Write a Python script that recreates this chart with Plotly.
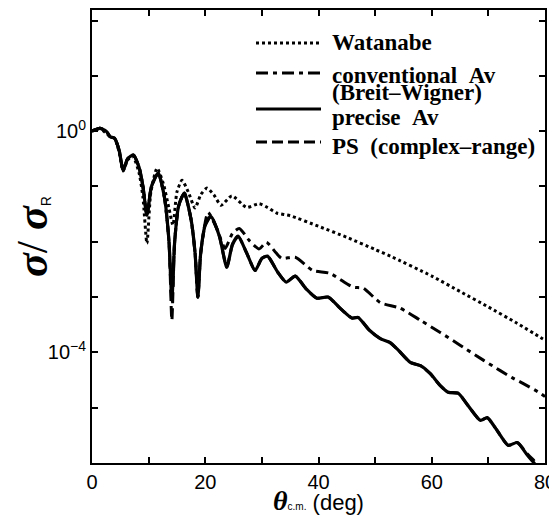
import plotly.graph_objects as go

# ---- data (angle in degrees, log10 of sigma/sigma_R) ----
precise_deg = [0, 1.4, 2.5, 3.2, 4.0, 4.8, 5.5, 6.3, 7.3, 8.3, 9.0, 9.7, 10.5, 11.7, 12.8, 13.6,
               14.1, 14.6, 15.3, 16.3, 17.5, 18.2, 18.7, 19.2, 20.0, 21.0, 22.5, 23.8, 24.8, 25.8,
               27.3, 28.8, 30.0, 31.0, 32.8, 34.3, 35.9, 37.8, 39.7, 41.7, 43.8, 45.9, 47.0, 49.0,
               50.9, 52.6, 54.0, 56.2, 58.0, 59.7, 61.5, 62.9, 64.7, 66.4, 68.6, 69.8, 71.2, 73.5,
               75.1, 76.9, 78.0, 79.5]
precise_log = [0.0, 0.05, 0.0, -0.10, -0.13, -0.35, -0.71, -0.50, -0.43, -0.65, -1.0, -1.52, -1.0,
               -0.76, -1.2, -2.0, -3.06, -2.0, -1.35, -1.12, -1.6, -2.2, -3.0, -2.2, -1.7, -1.54,
               -1.9, -2.46, -2.05, -1.90, -2.2, -2.52, -2.3, -2.26, -2.55, -2.73, -2.62, -2.85,
               -3.02, -3.0, -3.2, -3.38, -3.37, -3.6, -3.75, -3.82, -3.95, -4.18, -4.24, -4.38,
               -4.6, -4.72, -4.74, -4.96, -5.23, -5.18, -5.36, -5.68, -5.63, -5.86, -5.99, -6.2]

ps_deg = precise_deg
ps_log = [0.0, 0.05, 0.0, -0.10, -0.13, -0.35, -0.71, -0.50, -0.43, -0.65, -1.0, -1.52, -1.0,
          -0.76, -1.2, -2.0, -3.42, -2.0, -1.35, -1.12, -1.6, -2.2, -3.0, -2.2, -1.7, -1.54,
          -1.9, -2.46, -2.05, -1.90, -2.2, -2.52, -2.3, -2.26, -2.55, -2.73, -2.62, -2.85,
          -3.02, -3.0, -3.2, -3.38, -3.37, -3.6, -3.75, -3.82, -3.95, -4.18, -4.24, -4.38,
          -4.6, -4.72, -4.74, -4.96, -5.23, -5.18, -5.36, -5.68, -5.63, -5.84, -5.95, -6.25]

conv_deg = [0, 1.4, 2.5, 3.2, 4.0, 4.8, 5.5, 6.3, 7.3, 8.3, 9.0, 9.7, 10.5, 11.7, 12.8, 13.6,
            14.1, 14.6, 15.3, 16.3, 17.5, 18.2, 18.7, 19.2, 20.5, 22.0, 23.5, 24.8, 26.0, 27.8,
            29.5, 30.8, 32.5, 33.5, 35.9, 39.0, 42.0, 46.1, 47.9, 50.9, 54.4, 58.0, 61.5, 65.0,
            69.1, 72.1, 74.4, 76.1, 79.2, 80.0]
conv_log = [0.0, 0.05, 0.0, -0.10, -0.13, -0.35, -0.71, -0.50, -0.43, -0.65, -1.0, -1.52, -1.0,
            -0.76, -1.2, -2.0, -3.06, -2.0, -1.35, -1.12, -1.6, -2.2, -3.0, -2.2, -1.47, -1.75,
            -2.12, -1.85, -1.76, -1.98, -2.13, -2.01, -2.2, -2.3, -2.28, -2.52, -2.57, -2.82,
            -2.84, -3.1, -3.2, -3.42, -3.64, -3.87, -4.14, -4.33, -4.47, -4.56, -4.74, -4.8]

wat_deg = [0, 1.4, 3.2, 4.0, 4.8, 5.5, 6.3, 7.2, 8.3, 9.0, 9.7, 10.4, 11.5, 12.6, 13.6, 14.3,
           15.0, 15.9, 17.0, 18.2, 19.2, 20.3, 21.5, 22.8, 24.7, 27.3, 29.5, 31.0, 32.6, 35.0,
           40.0, 45.0, 50.0, 52.7, 60.0, 65.0, 70.0, 75.0, 79.2, 80.0]
wat_log = [0.0, 0.05, -0.10, -0.13, -0.38, -0.72, -0.52, -0.45, -0.75, -1.2, -2.03, -1.1, -0.67,
           -0.95, -1.4, -1.7, -1.1, -0.89, -1.1, -1.39, -1.15, -1.03, -1.15, -1.34, -1.17, -1.38,
           -1.31, -1.38, -1.48, -1.53, -1.72, -1.92, -2.14, -2.26, -2.62, -2.9, -3.18, -3.47,
           -3.73, -3.78]

x_tickvals = [0, 20, 40, 60, 80]
x_minorvals = [10, 30, 50, 70]
y_tickvals = [1e-4, 1e0]
y_ticktext = ["10<sup>\u22124</sup>", "10<sup>0</sup>"]
y_minorvals = [1e-6, 1e-5, 1e-3, 1e-2, 1e-1, 1e1, 1e2]

legend_labels = ["Watanabe", "conventional&nbsp;&nbsp;Av", "precise&nbsp;&nbsp;Av",
                 "PS&nbsp;&nbsp;(complex\u2013range)"]
legend_extra = "(Breit\u2013Wigner)"

sans = "Liberation Sans, Arial, sans-serif"
serif = "Liberation Serif, Times New Roman, serif"

series = [
    (legend_labels[0], wat_deg, wat_log, "dot", 3),
    (legend_labels[1], conv_deg, conv_log, "12px,5px,4px,5px", 3),
    (legend_labels[2], precise_deg, precise_log, "solid", 3.2),
    (legend_labels[3], ps_deg, ps_log, "11px,5px", 3),
]

fig = go.Figure()
for name, xs, ls, dash, w in series:
    fig.add_trace(go.Scatter(
        x=xs, y=[10 ** v for v in ls], mode="lines", name=name, showlegend=False,
        line=dict(color="black", width=w, dash=dash, shape="spline", smoothing=0.6),
    ))

# hand-drawn legend in plot-area (paper) coordinates.
# positions below are window pixels; the page body adds an 8 px offset.
PLOT_L, PLOT_R, PLOT_T, PLOT_B = 92, 545, 10, 463

def px_x(p):
    return (p - PLOT_L) / (PLOT_R - PLOT_L)

def px_y(p):
    return (PLOT_B - p) / (PLOT_B - PLOT_T)

sample_y = [43, 73, 109, 142]
text_y = [42.5, 75.5, 117.5, 146.5]
for (name, _, _, dash, w), sy, ty in zip(series, sample_y, text_y):
    fig.add_shape(type="line", xref="paper", yref="paper",
                  x0=px_x(256), x1=px_x(321), y0=px_y(sy), y1=px_y(sy),
                  line=dict(color="black", width=w, dash=dash))
    fig.add_annotation(xref="paper", yref="paper", x=px_x(330), y=px_y(ty),
                       xanchor="left", yanchor="middle", showarrow=False,
                       text="<b>" + name + "</b>",
                       font=dict(family=serif, size=23, color="black"))
fig.add_annotation(xref="paper", yref="paper", x=px_x(330), y=px_y(92.5),
                   xanchor="left", yanchor="middle", showarrow=False,
                   text="<b>" + legend_extra + "</b>",
                   font=dict(family=serif, size=23, color="black"))

tickstyle = dict(ticks="inside", ticklen=6, tickwidth=2, tickcolor="black")

W, H, OFF = 549, 508, 8
fig.update_layout(
    width=W, height=H,
    margin=dict(l=PLOT_L - OFF, r=W - (PLOT_R - OFF), t=PLOT_T - OFF, b=H - (PLOT_B - OFF)),
    paper_bgcolor="white", plot_bgcolor="white",
    showlegend=False,
    xaxis=dict(
        range=[0, 80], tickmode="array", tickvals=x_tickvals,
        minor=dict(tickmode="array", tickvals=x_minorvals, **tickstyle),
        showline=True, linewidth=2, linecolor="black", mirror="ticks",
        showgrid=False, zeroline=False, automargin=False,
        tickfont=dict(family=sans, size=20, color="black"),
        title=dict(
            text="<span style='font-family:Liberation Serif;font-size:28px'><b><i>\u03b8</i></b></span>"
                 "<span style='font-size:10px'>c.m.</span> (deg)",
            font=dict(family=sans, size=22, color="black"),
        ),
        **tickstyle,
    ),
    yaxis=dict(
        type="log", range=[-6, 2.19], tickmode="array", tickvals=y_tickvals, ticktext=y_ticktext,
        minor=dict(tickmode="array", tickvals=y_minorvals, **tickstyle),
        showline=True, linewidth=2, linecolor="black", mirror="ticks",
        showgrid=False, zeroline=False, automargin=False,
        tickfont=dict(family=sans, size=20, color="black"),
        title=dict(
            text="<b><i>\u03c3</i></b>/ <b><i>\u03c3</i></b>"
                 "<span style='font-family:Liberation Sans;font-size:20px'><sub>R</sub></span>",
            font=dict(family=serif, size=44, color="black"),
        ),
        **tickstyle,
    ),
)

fig.write_html("out.html")
